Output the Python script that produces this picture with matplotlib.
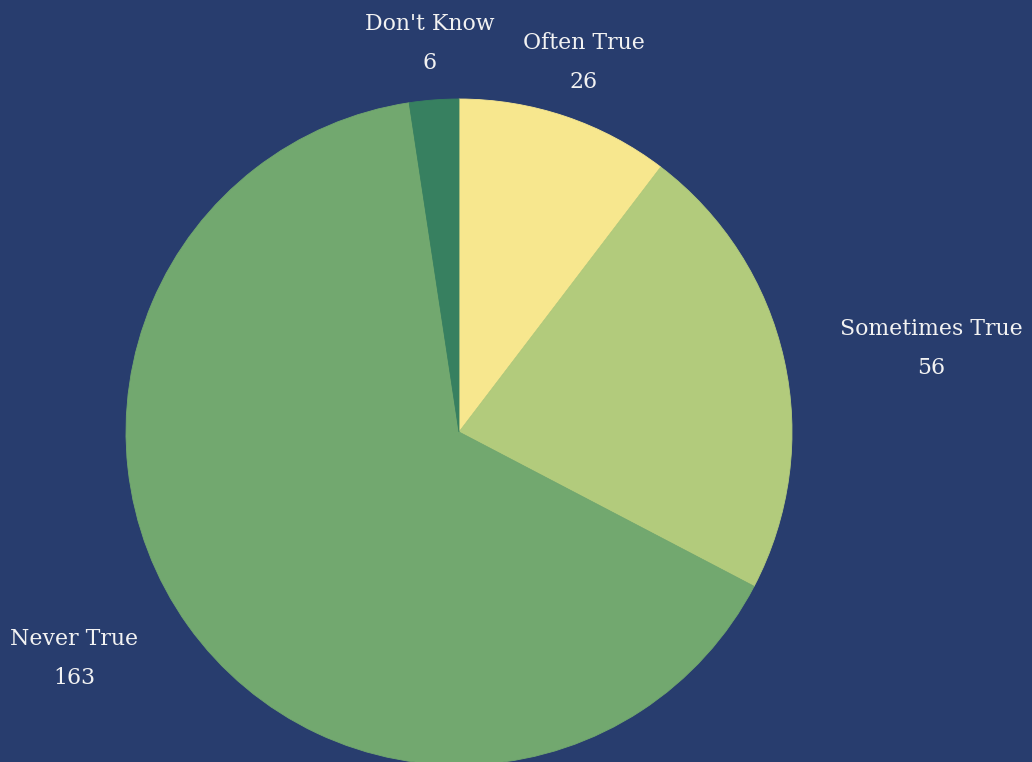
import numpy as np
import matplotlib
matplotlib.use('Agg')
import matplotlib.pyplot as plt

# survey answers, clockwise from 12 o'clock
categories = ['Often True', 'Sometimes True', 'Never True', "Don't Know"]
counts = [26, 56, 163, 6]
colors = ['#f7e78e', '#b2cb7c', '#72a86f', '#378060']

BG = '#283d6e'
W, H = 1032, 762

# pie geometry in pixel units (y measured from the bottom)
cx, cy, r = 459, H - 432, 333
# how far out each label sits (in radii) plus a small angle nudge in degrees
label_dist = [1.17, 1.44, 1.34, 1.17]
label_nudge = [0, 2.5, 5, 0]

fig = plt.figure(figsize=(W / 100, H / 100), dpi=100, facecolor=BG)
ax = fig.add_axes([0, 0, 1, 1])
ax.set_facecolor(BG)

wedges, _ = ax.pie(counts, colors=colors, startangle=90, counterclock=False,
                   center=(cx, cy), radius=r, frame=True,
                   wedgeprops=dict(linewidth=0))
# hide the hairline seams between slices
for w, c in zip(wedges, colors):
    w.set_edgecolor(c)
    w.set_linewidth(0.6)

ax.set_xlim(0, W)
ax.set_ylim(0, H)
ax.set_aspect('equal')
ax.axis('off')

total = sum(counts)
start = 0.0
for name, n, d, nudge in zip(categories, counts, label_dist, label_nudge):
    sweep = n / total * 360
    mid = np.radians(start + sweep / 2 + nudge)  # clockwise from top
    start += sweep
    x = cx + d * r * np.sin(mid)
    y = cy + d * r * np.cos(mid)
    ax.text(x, y, f'{name}\n{n}', ha='center', va='center', color='#f2f2f2',
            fontsize=15.8, family='DejaVu Serif', linespacing=2.0)

fig.savefig('out.png', dpi=100, facecolor=BG)
